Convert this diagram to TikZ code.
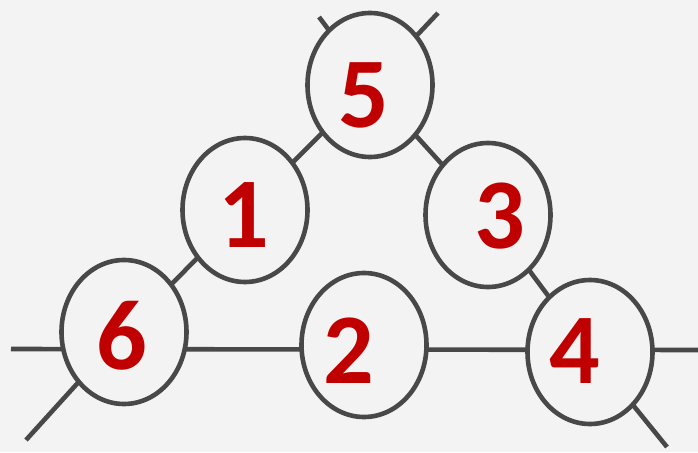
\documentclass[tikz,border=0pt]{standalone}
\usepackage{fontspec}
\setmainfont{Carlito}
\usetikzlibrary{shapes.geometric}
\definecolor{bgc}{RGB}{243,243,243}
\definecolor{ink}{RGB}{72,72,72}
\definecolor{digit}{RGB}{192,0,0}
\pgfdeclarelayer{back}
\pgfdeclarelayer{bg}
\pgfsetlayers{back,bg,main}
\begin{document}
\begin{tikzpicture}[x=1pt,y=-1pt,
  ring/.style={ellipse,draw=ink,line width=4.6pt,fill=bgc,minimum width=125pt,minimum height=144pt,inner sep=0pt},
  num/.style={text=digit,font=\fontsize{100}{100}\selectfont\bfseries,inner sep=0pt,anchor=center},
  wire/.style={draw=ink,line width=4.6pt}]
\begin{pgfonlayer}{back}
  \fill[bgc] (0,0) rectangle (698,452);
\end{pgfonlayer}
\useasboundingbox (0,0) rectangle (698,452);
% rings
\node[ring] (n5) at (370,85) {};
\node[ring] (n1) at (245,210) {};
\node[ring] (n3) at (488,215) {};
\node[ring] (n6) at (124,332) {};
\node[ring] (n2) at (364,345) {};
\node[ring] (n4) at (590,352) {};
% digits
\node[num] (t5) at (364,95) {5};
\node[num] (t1) at (244,215) {1};
\node[num] (t3) at (500,216) {3};
\node[num] (t6) at (122,336) {6};
\node[num] (t2) at (349,351) {2};
\node[num] (t4) at (575,351) {4};
% free ends
\coordinate (a1) at (26,440);
\coordinate (a2) at (438,13);
\coordinate (b1) at (319,17);
\coordinate (b2) at (667,447);
\coordinate (hl) at (11,349);
\coordinate (hr) at (698,350);
\begin{pgfonlayer}{bg}
  \draw[wire] (a1) -- (n6.center) -- (n1.center) -- (n5.center) -- (a2);
  \draw[wire] (b1) -- (n5.center) -- (n3.center) -- (n4.center) -- (b2);
  \draw[wire] (hl) -- (hr);
\end{pgfonlayer}
\end{tikzpicture}
\end{document}
